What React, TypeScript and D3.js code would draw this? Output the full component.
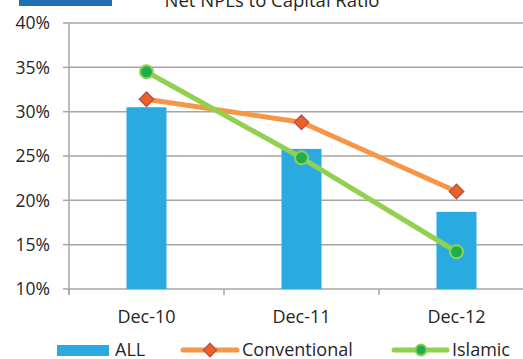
import React from "react";
import * as d3 from "d3";

const categories = ["Dec-10", "Dec-11", "Dec-12"];
const allValues = [30.5, 25.8, 18.7];
const conventionalValues = [31.4, 28.8, 21.0];
const islamicValues = [34.5, 24.8, 14.2];
const yTicks = [10, 15, 20, 25, 30, 35, 40];
const title = "Net NPLs to Capital Ratio";

const FONT = "'Open Sans', sans-serif";

export default function App() {
  const W = 523, H = 359;
  const left = 69, right = 534, top = 23, bottom = 289;
  const x = d3.scaleBand<string>().domain(categories).range([left, right]);
  const y = d3.scaleLinear().domain([10, 40]).range([bottom, top]);
  const barW = 40;
  const grid = "#A6A6A6";
  const cx = (c: string) => (x(c) as number) + x.bandwidth() / 2;
  const line = d3.line<number>().x((_, i) => cx(categories[i])).y((d) => y(d));
  const diamond = (size: number) => d3.symbol(d3.symbolDiamond2, size)() || "";

  return (
    <svg width={W} height={H} style={{ position: "absolute", left: 0, top: 0, background: "#fff" }} fontFamily={FONT}>
      <rect x={19} y={0} width={93} height={6} fill="#1F6FB5" />
      <text x={272} y={6.5} textAnchor="middle" fontSize={18.5} fill="#262626">{title}</text>
      {yTicks.map((t) => (
        <g key={t}>
          <line x1={left} x2={W} y1={y(t)} y2={y(t)} stroke={grid} strokeWidth={1.5} />
          <line x1={63} x2={left} y1={y(t)} y2={y(t)} stroke={grid} strokeWidth={1.5} />
          <text x={50} y={y(t)} dy="0.36em" textAnchor="end" fontSize={17.5} fill="#262626">{t}%</text>
        </g>
      ))}
      <line x1={left} x2={left} y1={top} y2={bottom + 6} stroke={grid} strokeWidth={1.5} />
      {[...categories.map((c) => x(c) as number), right].map((v, i) => (
        <line key={i} x1={v} x2={v} y1={bottom} y2={bottom + 6} stroke={grid} strokeWidth={1.5} />
      ))}
      {categories.map((c, i) => (
        <rect key={c} x={cx(c) - barW / 2} y={y(allValues[i])} width={barW} height={bottom - y(allValues[i])} fill="#29ABE2" />
      ))}
      <path d={line(conventionalValues) || ""} fill="none" stroke="#F79646" strokeWidth={5} strokeLinejoin="round" />
      <path d={line(islamicValues) || ""} fill="none" stroke="#92D050" strokeWidth={5} strokeLinejoin="round" />
      {categories.map((c, i) => (
        <path key={c} d={diamond(130)} transform={`translate(${cx(c)},${y(conventionalValues[i])})`} fill="#EE6122" stroke="#C0504D" strokeWidth={1.5} />
      ))}
      {categories.map((c, i) => (
        <circle key={c} cx={cx(c)} cy={y(islamicValues[i])} r={6.5} fill="#1DAF4F" stroke="#92D050" strokeWidth={2} />
      ))}
      {categories.map((c) => (
        <text key={c} x={cx(c)} y={323} textAnchor="middle" fontSize={18} fill="#262626">{c}</text>
      ))}
      <g>
        <rect x={57} y={345} width={52} height={11} fill="#29ABE2" />
        <text x={115} y={356} fontSize={18} fill="#262626">ALL</text>
        <line x1={183} x2={237} y1={350} y2={350} stroke="#F79646" strokeWidth={5} strokeLinecap="round" />
        <path d={diamond(110)} transform="translate(210,350)" fill="#EE6122" stroke="#C0504D" strokeWidth={1.5} />
        <text x={242} y={356} fontSize={18} fill="#262626">Conventional</text>
        <line x1={394} x2={447} y1={350} y2={350} stroke="#92D050" strokeWidth={5} strokeLinecap="round" />
        <circle cx={421} cy={350} r={5.5} fill="#1DAF4F" stroke="#92D050" strokeWidth={2} />
        <text x={452} y={356} fontSize={18} fill="#262626">Islamic</text>
      </g>
    </svg>
  );
}
